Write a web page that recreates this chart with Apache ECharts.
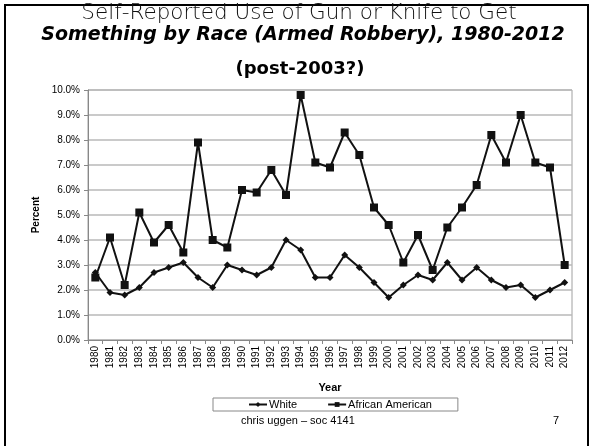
<!DOCTYPE html>
<html><head><meta charset="utf-8">
<script src="https://cdn.jsdelivr.net/npm/echarts@6/dist/echarts.min.js"></script>
<style>
html,body{margin:0;padding:0;background:#fff;}
#frame{position:absolute;left:4px;top:4px;width:585px;height:442px;border:2px solid #000;border-bottom:none;box-sizing:border-box;}
#c{position:absolute;left:0;top:0;width:594px;height:446px;}
</style>
</head><body>
<div id="frame"></div>
<div id="c"></div>
<script>
const years = ['1980','1981','1982','1983','1984','1985','1986','1987','1988','1989','1990','1991','1992','1993','1994','1995','1996','1997','1998','1999','2000','2001','2002','2003','2004','2005','2006','2007','2008','2009','2010','2011','2012'];
const white = [2.7,1.9,1.8,2.1,2.7,2.9,3.1,2.5,2.1,3.0,2.8,2.6,2.9,4.0,3.6,2.5,2.5,3.4,2.9,2.3,1.7,2.2,2.6,2.4,3.1,2.4,2.9,2.4,2.1,2.2,1.7,2.0,2.3];
const africanAmerican = [2.5,4.1,2.2,5.1,3.9,4.6,3.5,7.9,4.0,3.7,6.0,5.9,6.8,5.8,9.8,7.1,6.9,8.3,7.4,5.3,4.6,3.1,4.2,2.8,4.5,5.3,6.2,8.2,7.1,9.0,7.1,6.9,3.0];
const titleLines = ['Self-Reported Use of Gun or Knife to Get','Something by Race (Armed Robbery), 1980-2012','(post-2003?)'];

const chart = echarts.init(document.getElementById('c'));
chart.setOption({
  animation:false,
  backgroundColor:'transparent',
  graphic:[
    {type:'text',x:299,y:24,style:{text:titleLines[0],font:'300 21.5px "DejaVu Sans", sans-serif',fill:'#111',align:'center',verticalAlign:'bottom'}},
    {type:'text',x:303,y:45,style:{text:titleLines[1],font:'italic bold 19px "DejaVu Sans", sans-serif',fill:'#000',align:'center',verticalAlign:'bottom'}},
    {type:'text',x:300,y:78,style:{text:titleLines[2],font:'bold 18px "DejaVu Sans", sans-serif',fill:'#000',align:'center',verticalAlign:'bottom'}},
    {type:'text',x:36,y:215,rotation:Math.PI/2,style:{text:'Percent',font:'bold 10px "Liberation Sans", Arial, sans-serif',fill:'#000',align:'center',verticalAlign:'middle'}},
    {type:'text',left:241,top:415,style:{text:'chris uggen – soc 4141',font:'11px "Liberation Sans", Arial, sans-serif',fill:'#000'}},
    {type:'text',left:553,top:415,style:{text:'7',font:'11px "Liberation Sans", Arial, sans-serif',fill:'#000'}}
  ],
  grid:{left:88,right:22,top:90,bottom:106,show:true,borderColor:'#a0a0a0',borderWidth:1},
  legend:{
    data:['White','African American'],
    left:213,top:398,
    padding:[1,26,1,35],
    itemGap:30,itemWidth:18,itemHeight:6,
    borderColor:'#888',borderWidth:1,
    textStyle:{fontSize:11,fontFamily:'"Liberation Sans", Arial, sans-serif',color:'#000',padding:[0,0,0,-3]}
  },
  xAxis:{
    type:'category',data:years,boundaryGap:true,
    name:'Year',nameLocation:'middle',nameGap:42,
    nameTextStyle:{fontWeight:'bold',fontSize:11,fontFamily:'"Liberation Sans", Arial, sans-serif',color:'#000'},
    axisLine:{lineStyle:{color:'#888'}},
    axisTick:{show:true,length:4,lineStyle:{color:'#888'},interval:0},
    axisLabel:{rotate:90,interval:0,fontSize:10,fontFamily:'"Liberation Sans", Arial, sans-serif',color:'#000',margin:6}
  },
  yAxis:{
    type:'value',min:0,max:10,interval:1,
    axisLine:{show:true,lineStyle:{color:'#888'}},
    axisTick:{show:true,length:4,lineStyle:{color:'#888'}},
    axisLabel:{formatter:v=>v.toFixed(1)+'%',fontSize:10,fontFamily:'"Liberation Sans", Arial, sans-serif',color:'#000',margin:8},
    splitLine:{lineStyle:{color:'#b8b8b8',width:1.5}}
  },
  series:[
    {name:'White',type:'line',data:white,symbol:'diamond',symbolSize:7,showAllSymbol:true,
     lineStyle:{color:'#111',width:2},itemStyle:{color:'#111'}},
    {name:'African American',type:'line',data:africanAmerican,symbol:'rect',symbolSize:8,showAllSymbol:true,
     lineStyle:{color:'#111',width:2},itemStyle:{color:'#111'}}
  ]
});
</script>
</body></html>
